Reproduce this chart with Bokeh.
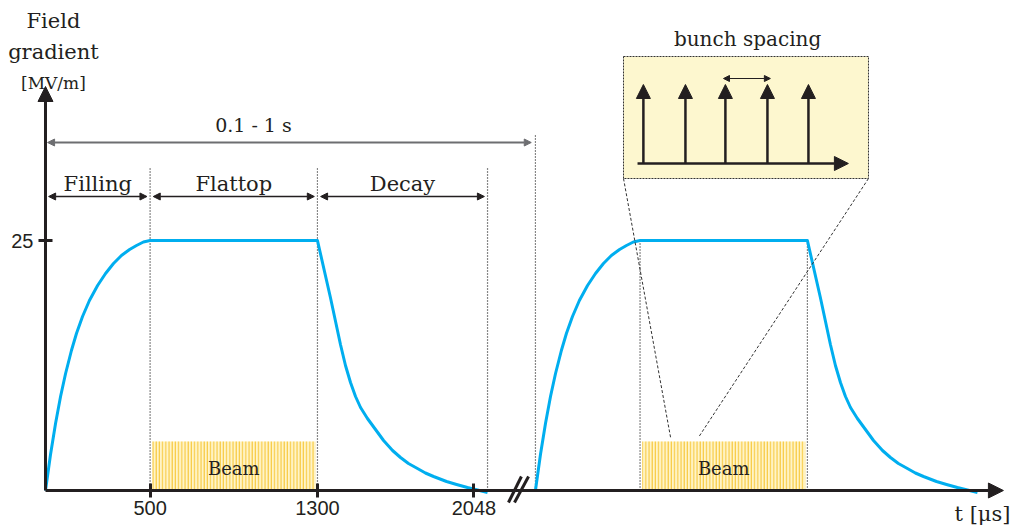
from bokeh.plotting import figure
from bokeh.models import Range1d, FixedTicker, Arrow, NormalHead
from bokeh.core.properties import value
from bokeh.embed import file_html
from bokeh.resources import INLINE

# --- axis ticks -------------------------------------------------------------
x_ticks = [500, 1300, 2048]          # t [μs]
y_ticks = [25]                       # field gradient [MV/m]

# --- RF pulse phases (μs) ----------------------------------------------------
fill_end = 500
flat_end = 1300
decay_end = 2113
next_pulse = 2342                    # start of the following pulse, after the axis break

# --- one RF pulse: time (μs) and accelerating gradient (MV/m) -----------------
fill_t = [0, 24, 48, 72, 96, 124, 148, 177, 210, 249, 287, 325, 363, 402, 435, 468, 500]
fill_g = [0.0, 3.6, 6.7, 9.4, 11.7, 14.0, 15.7, 17.4, 19.0, 20.5, 21.7, 22.7, 23.5,
          24.1, 24.5, 24.85, 25.0]
decay_t = [1300, 1362, 1410, 1434, 1458, 1482, 1506, 1539, 1616, 1659, 1697, 1735, 1778,
           1816, 1855, 1917, 1965, 2017, 2065, 2113]
decay_g = [25.0, 19.3, 14.6, 12.5, 10.8, 9.4, 8.3, 7.2, 5.0, 4.0, 3.3, 2.7, 2.2,
           1.75, 1.4, 0.9, 0.6, 0.3, 0.05, -0.2]

pulse_t = fill_t + decay_t           # the flat top joins the two parts
pulse_g = fill_g + decay_g

beam_height = 4.9                    # height of the beam-train band (MV/m units)

INK = "#231f20"
PULSE = "#00aeef"
SERIF = value("DejaVu Serif")

p = figure(width=1012, height=527, output_backend="svg", toolbar_location=None,
           x_range=Range1d(-215.1, 4622.4), y_range=Range1d(-3.7, 49.0),
           min_border=0, min_border_left=0, min_border_right=0,
           min_border_top=0, min_border_bottom=0)
p.outline_line_color = None
p.xgrid.visible = False
p.ygrid.visible = False
p.background_fill_color = "white"

# axes crossing at the origin: ticks and labels from Bokeh, arrowed lines drawn below
for ax, ticks in ((p.xaxis, x_ticks), (p.yaxis, y_ticks)):
    ax.ticker = FixedTicker(ticks=ticks)
    ax.fixed_location = 0
    ax.axis_line_color = None
    ax.minor_tick_line_color = None
    ax.major_tick_in = 7
    ax.major_tick_out = 7
    ax.major_tick_line_width = 3
    ax.major_tick_line_color = INK
    ax.major_label_text_font = "Liberation Sans"
    ax.major_label_text_font_size = "20px"
    ax.major_label_text_color = INK
p.xaxis.major_label_standoff = 3
p.yaxis.major_label_standoff = 5


def arrow(x0, y0, x1, y1, color=INK, width=1.5, size=7, both=False):
    head = lambda: NormalHead(size=size, fill_color=color, line_color=color, line_width=1)
    p.add_layout(Arrow(start=head() if both else None, end=head(),
                       x_start=x0, y_start=y0, x_end=x1, y_end=y1,
                       line_color=color, line_width=width))


def pulse_train_band(t0, t1):
    p.quad(left=t0 + 10, right=t1 - 10, bottom=0, top=beam_height,
           fill_color="#fff4c8", line_color=None,
           hatch_pattern="vertical_line", hatch_color="#f7c73a",
           hatch_scale=3.2, hatch_weight=1.1)


# beam trains during the flat tops
pulse_train_band(fill_end, flat_end)
pulse_train_band(next_pulse + fill_end, next_pulse + flat_end)

# phase boundaries
dot = dict(line_color="#111111", line_width=1.2, line_dash="1 2")
p.segment(x0=[fill_end, flat_end, decay_end], y0=[0, 0, 0],
          x1=[fill_end, flat_end, decay_end], y1=[32.2, 32.2, 32.2], **dot)
p.segment(x0=[next_pulse], y0=[0], x1=[next_pulse], y1=[35.7], **dot)
p.segment(x0=[next_pulse + fill_end, next_pulse + flat_end], y0=[0, 0],
          x1=[next_pulse + fill_end, next_pulse + flat_end], y1=[25, 25], **dot)

# the two RF pulses
p.line(pulse_t, pulse_g, line_color=PULSE, line_width=3, line_join="round")
p.line([t + next_pulse for t in pulse_t], pulse_g, line_color=PULSE, line_width=3,
       line_join="round")

# axes with arrow heads and the break mark
arrow(0, 0, 4579, 0, width=3, size=15)
arrow(0, 0, 0, 40.4, width=3, size=15)
p.segment(x0=[2213, 2242], y0=[-1.2, -1.2], x1=[2275, 2309], y1=[1.4, 1.4],
          line_color=INK, line_width=3)

# phase spans
gap = 15
arrow(gap, 29.4, fill_end - gap, 29.4, both=True)
arrow(fill_end + gap, 29.4, flat_end - gap, 29.4, both=True)
arrow(flat_end + gap, 29.4, decay_end - gap, 29.4, both=True)
arrow(10, 34.8, next_pulse - 20, 34.8, color="#6d6e71", width=2, size=7, both=True)

# zoomed view of the bunch train
p.quad(left=[2763], right=[3934], bottom=[31.2], top=[43.4],
       fill_color="#fdf7cf", line_color="#333333", line_width=1, line_dash="2 1")
p.segment(x0=[2763, 3934], y0=[31.2, 31.2], x1=[2988, 3121], y1=[5.3, 5.3],
          line_color="#333333", line_width=1, line_dash="3 2")
arrow(2830, 32.7, 3838, 32.7, width=2.5, size=14)
for xb in [2858, 3059, 3250, 3451, 3647]:
    arrow(xb, 32.7, xb, 40.6, width=2.5, size=14)
arrow(3241, 41.2, 3465, 41.2, width=1.2, size=6, both=True)


# texts
def text(x, y, s, size, font=SERIF):
    p.text(x=[x], y=[y], text=[s], text_font=font, text_font_size=value(size),
           text_align="center", text_baseline="middle", text_color=INK)


text(38, 47.0, "Field", "21px")
text(38, 43.9, "gradient", "21px")
text(38, 40.8, "[MV/m]", "17px")
text(994, 36.6, "0.1 - 1 s", "19px")
text(fill_end / 2, 30.7, "Filling", "21px")
text((fill_end + flat_end) / 2, 30.7, "Flattop", "21px")
text((flat_end + decay_end) / 2, 30.7, "Decay", "21px")
text((fill_end + flat_end) / 2, 2.2, "Beam", "18px")
text(next_pulse + (fill_end + flat_end) / 2, 2.2, "Beam", "18px")
text(3356, 45.2, "bunch spacing", "20px")
text(4479, -2.3, "t [μs]", "21px")

open("out.html", "w").write(file_html(p, INLINE))
